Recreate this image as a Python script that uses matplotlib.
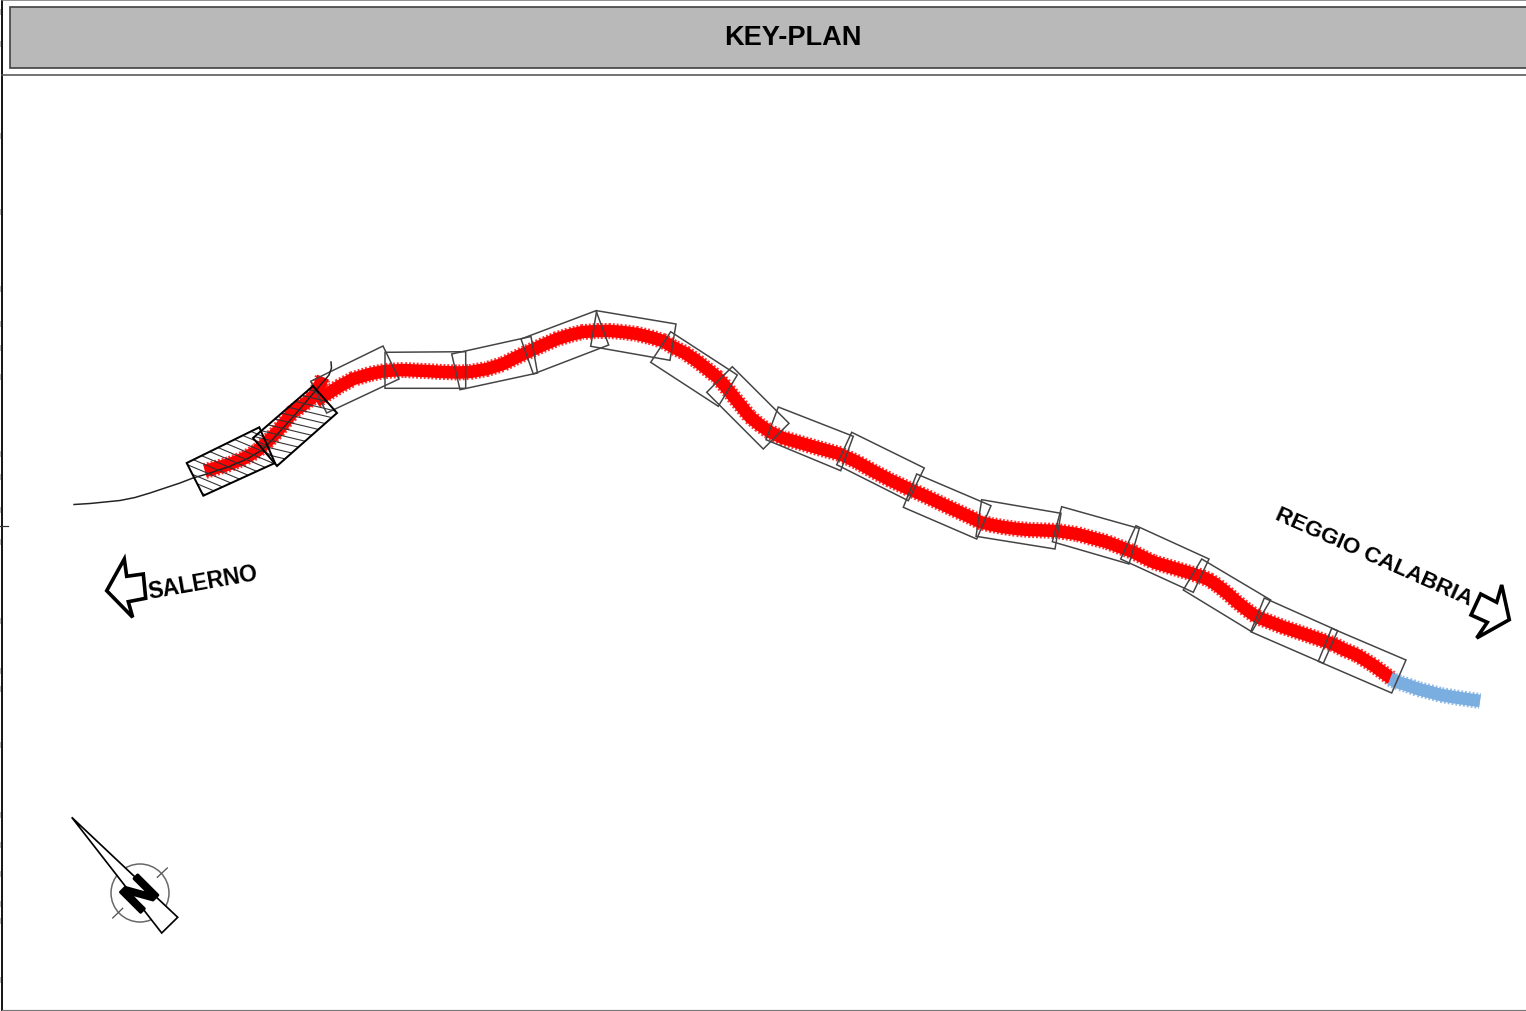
# -*- coding: utf-8 -*-
import numpy as np
import matplotlib.pyplot as plt
import matplotlib.patheffects as pe
from matplotlib.patches import Polygon, Circle, Rectangle

red_a_x = [205, 230, 245, 257, 267, 277, 285, 293, 303, 313, 319, 323]
red_a_y = [472, 465, 459, 452, 443, 433, 423, 413, 406, 398, 388, 378]

red_b_x = [316, 327, 340, 353, 370, 385, 403, 425, 443, 458, 470, 487, 503, 517, 530, 543, 557, 570, 583, 597,
           610, 623, 637, 650, 663, 673, 685, 697, 707, 717, 725, 733, 742, 750, 760, 770, 783, 797, 818, 840,
           857, 873, 890, 907, 923, 940, 957, 970, 980, 992, 1003, 1017, 1030, 1045, 1057, 1077, 1092, 1107,
           1120, 1133, 1153, 1177, 1200, 1209, 1217, 1227, 1237, 1247, 1257, 1270, 1283, 1310, 1333, 1345, 1357,
           1373, 1392]
red_b_y = [402, 395, 387, 380, 375, 372, 371, 372, 373, 373.5, 373, 370, 365, 358, 352, 346, 340, 336, 333, 332,
           332, 333, 335, 338, 342, 348, 354, 362, 370, 378, 387, 397, 408, 418, 426, 433, 439, 443, 449, 455,
           463, 472, 481, 489, 496, 504, 512, 518, 523, 526, 528, 530, 531, 531.5, 532, 535, 539, 543,
           548, 553, 563, 570, 577, 581, 586, 594, 603, 611, 618, 623, 628, 637, 645, 651, 656, 666, 680]

blue_x = [1390, 1400, 1407, 1418, 1430, 1441, 1453, 1466, 1480]
blue_y = [680, 684, 686, 690, 693, 696, 698, 700, 702]

road_x = [74, 90, 105, 120, 135, 150, 165, 180, 193, 207, 228, 247, 262, 273, 283, 293, 305, 317, 329, 331.5, 331]
road_y = [505.5, 504.5, 503, 501.5, 498.5, 494, 489, 484, 479, 475, 468, 460, 451, 440, 429, 418, 404, 390, 376, 369, 363]

# plan sheets, corners clockwise from top left
sheets = [
    [(310.7, 382.3), (383, 347), (399, 380), (326.7, 414)],
    [(385, 353.3), (465.7, 352.7), (465.7, 389.3), (385, 389.3)],
    [(451.7, 355), (531, 337.5), (537.5, 374), (460, 390.7)],
    [(521, 340), (596, 311.7), (608.7, 346), (533.3, 375)],
    [(596.7, 311.7), (676, 325), (670, 361.3), (590.7, 347.3)],
    [(670.7, 332.7), (737.3, 376), (718.3, 407.3), (650.7, 363.3)],
    [(732.3, 367.7), (789, 424.3), (763.3, 450), (706.7, 393.3)],
    [(778.3, 408), (853.3, 437.3), (840.7, 471.7), (766, 440.7)],
    [(851.7, 433.3), (924.3, 469), (908.3, 501.7), (836.7, 465.7)],
    [(916.7, 475), (991, 506.7), (976.7, 540), (903.3, 508.3)],
    [(981.7, 500.7), (1061, 514.3), (1055, 550), (976, 537.3)],
    [(1061.7, 507.7), (1139.3, 529.5), (1129, 565), (1052.3, 542.7)],
    [(1136, 526.7), (1209, 560), (1193.3, 593.3), (1120.7, 560)],
    [(1201.7, 560), (1270.7, 601), (1251.7, 632.7), (1183.3, 591)],
    [(1264.3, 599), (1337.7, 631.7), (1323.3, 664.3), (1250.7, 632.7)],
    [(1331.7, 629.3), (1406, 661), (1391.7, 694), (1318.3, 662.3)],
]

hatched_sheets = [
    [(186.7, 464), (259.3, 428.3), (275, 464), (203.3, 496.7)],
    [(253, 439), (313, 387), (337, 414), (277, 467)],
]
hatch_slopes = [0.42, 0.24]

salerno_arrow = [(106.7, 591.7), (124.3, 560), (126.7, 577.3), (143.3, 575), (145.7, 599.3), (128.3, 602.7), (132.7, 618.3)]
reggio_arrow = [(1509.3, 620.7), (1501.7, 586), (1496.7, 603.3), (1480.7, 595), (1471, 616), (1487.3, 623.3), (1476.7, 639)]
needle = [(71.7, 818.3), (177.7, 918.3), (161.7, 934)]
compass_ticks = [((157.3, 878.3), (167.3, 869)), ((112.7, 919), (122.7, 909.3))]

# faint marks along the left edge of the sheet
edge_marks = [13, 45, 137, 213, 290, 325, 349, 378, 455, 478, 511, 543, 622, 672, 690, 746, 816, 846, 875, 905, 922, 981]

plt.rcParams['font.family'] = ['Liberation Sans', 'DejaVu Sans']
px = 0.72  # one image pixel in points

fig = plt.figure(figsize=(15.26, 10.12), dpi=100)
ax = fig.add_axes([0, 0, 1, 1])
ax.set_xlim(0, 1526)
ax.set_ylim(1012, 0)
ax.axis('off')

# frame and title
ax.plot([2, 2], [0, 1012], color='black', lw=1.8*px)
ax.plot([2, 1526], [0.5, 0.5], color='#777777', lw=1.6*px)
ax.plot([2, 1526], [75.5, 75.5], color='#555555', lw=1.6*px)
ax.plot([2, 1526], [1010.5, 1010.5], color='#777777', lw=1.2*px)
ax.plot([0, 8], [527, 527], color='#333333', lw=1.2*px)
for y in edge_marks:
    ax.plot([0, 1], [y, y], color='#bbbbbb', lw=6*px, solid_capstyle='butt')
ax.add_patch(Rectangle((9.5, 7.5), 1520, 61, fc='#b9b9b9', ec='#444444', lw=1.7*px))
ax.text(793, 37.5, 'KEY-PLAN', fontsize=19.5, fontweight='bold', ha='center', va='center')

# road axis, thick with small ticks on both sides
for xs, ys, col, z in [(red_a_x, red_a_y, '#ff0000', 2), (red_b_x, red_b_y, '#ff0000', 2), (blue_x, blue_y, '#7aaee0', 3)]:
    ax.plot(xs, ys, color=col, lw=12.5*px, solid_capstyle='butt', solid_joinstyle='round', zorder=z)
    ax.plot(xs, ys, color=col, lw=16*px, linestyle=(0, (0.12, 0.12)), alpha=0.8, dash_capstyle='butt', zorder=z)

ax.plot(road_x, road_y, color='#222222', lw=1.5*px, zorder=5)

for s in sheets:
    ax.add_patch(Polygon(s, closed=True, fill=False, ec='#444444', lw=1.5*px, zorder=4))

for s, slope in zip(hatched_sheets, hatch_slopes):
    p = Polygon(s, closed=True, fill=False, ec='black', lw=2*px, zorder=6)
    ax.add_patch(p)
    for c in np.arange(200, 600, 7.5):
        # c is the height of the hatch line at x = 150
        ln, = ax.plot([150, 400], [c - 80, c - 80 + 250*slope], color='#333333', lw=1.1*px, zorder=5)
        ln.set_clip_path(p.get_path(), p.get_transform())

# direction arrows
ax.add_patch(Polygon(salerno_arrow, closed=True, fc='white', ec='black', lw=3.6*px, joinstyle='miter'))
ax.add_patch(Polygon(reggio_arrow, closed=True, fc='white', ec='black', lw=3.6*px, joinstyle='miter'))
ax.text(203, 582.5, 'SALERNO', fontsize=16.4, fontweight='bold', rotation=10, rotation_mode='anchor', ha='center', va='center')
ax.text(1374, 557, 'REGGIO CALABRIA', fontsize=16.2, fontweight='bold', rotation=-24, rotation_mode='anchor', ha='center', va='center')

# north sign
ax.add_patch(Circle((140, 894), 29, fill=False, ec='#666666', lw=1.5*px))
for a, b in compass_ticks:
    ax.plot([a[0], b[0]], [a[1], b[1]], color='#555555', lw=1.3*px)
ax.add_patch(Polygon(needle, closed=True, fc='white', ec='black', lw=1.7*px, zorder=6))
ax.text(141.5, 897, 'N', fontsize=30, fontweight='bold', rotation=45, rotation_mode='anchor', ha='center', va='center', zorder=7,
        path_effects=[pe.withStroke(linewidth=2, foreground='black')])

fig.savefig('out.png', dpi=100)
